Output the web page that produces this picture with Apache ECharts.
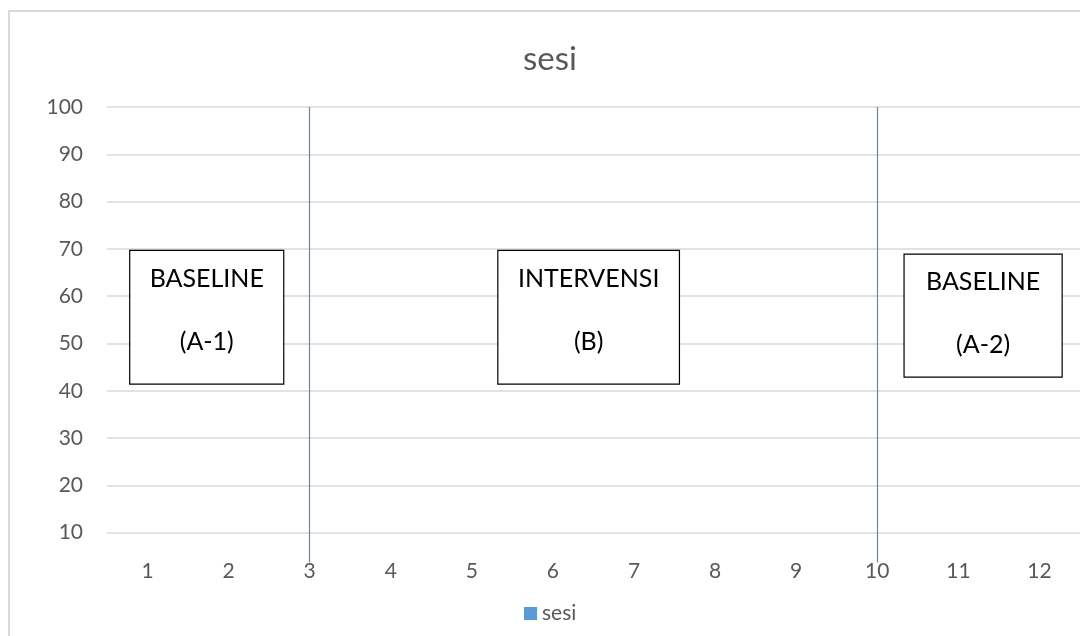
<!DOCTYPE html>
<html>
<head>
<meta charset="utf-8">
<script src="https://cdn.jsdelivr.net/npm/echarts@6/dist/echarts.min.js"></script>
<style>
  html, body { margin: 0; padding: 0; background: #ffffff; }
  #chart { width: 1080px; height: 636px; }
</style>
</head>
<body>
<div id="chart"></div>
<script>
// Session numbers along the horizontal axis
const categories = ['1', '2', '3', '4', '5', '6', '7', '8', '9', '10', '11', '12'];
// The "sesi" series carries no plotted values yet
const sesiValues = [null, null, null, null, null, null, null, null, null, null, null, null];

// Phase change lines (category where each new phase begins)
const phaseBoundaries = ['3', '10'];
const phaseLineTop = 100;
const phaseLineBottom = 3.7;

// Phase captions and their box extents in data units
const phaseNames = ['BASELINE', 'INTERVENSI', 'BASELINE'];
const phaseCodes = ['(A-1)', '(B)', '(A-2)'];
const phaseBoxX = [[0.78, 2.68], [5.32, 7.56], [10.33, 12.28]];
const phaseBoxY = [[41.4, 69.7], [41.4, 69.7], [42.9, 68.9]];

const FONT = 'Lato, "Open Sans", sans-serif';
const GREY = '#595959';
const BLUE = '#5b9bd5';
const LINE_BLUE = '#4a8ed0';

const chart = echarts.init(document.getElementById('chart'), null, { renderer: 'canvas' });

const phaseAreas = phaseNames.map((name, i) => [
  {
    coord: [phaseBoxX[i][0], phaseBoxY[i][1]],
    label: { formatter: name + '\n\n' + phaseCodes[i] }
  },
  { coord: [phaseBoxX[i][1], phaseBoxY[i][0]] }
]);

const phaseLines = phaseBoundaries.map(c => [
  { coord: [c, phaseLineTop], lineStyle: { color: LINE_BLUE, width: 1.2, type: 'solid', opacity: 1 } },
  { coord: [c, phaseLineBottom] }
]);

chart.setOption({
  animation: false,
  backgroundColor: '#ffffff',
  graphic: [{
    type: 'rect',
    silent: true,
    z: -10,
    shape: { x: 9, y: 11, width: 1200, height: 800 },
    style: { fill: 'none', stroke: '#d9d9d9', lineWidth: 2 }
  }],
  title: {
    text: 'sesi',
    left: 545,
    top: 38,
    textAlign: 'center',
    textStyle: { fontFamily: FONT, fontSize: 33, fontWeight: 'normal', color: GREY }
  },
  legend: {
    data: ['sesi'],
    left: 519,
    top: 598,
    itemWidth: 13,
    itemHeight: 13,
    itemGap: 10,
    icon: 'rect',
    textStyle: { fontFamily: FONT, fontSize: 21, color: GREY, padding: [0, 0, 0, 0] }
  },
  grid: { left: 107, top: 107, right: -2, bottom: 56, containLabel: false },
  xAxis: [
    {
      type: 'category',
      data: categories,
      boundaryGap: true,
      axisLine: { show: false },
      axisTick: { show: false },
      splitLine: { show: false },
      axisLabel: { margin: -19, fontFamily: FONT, fontSize: 21, color: GREY }
    },
    {
      type: 'value',
      min: 0.5,
      max: 12.5,
      show: false
    }
  ],
  yAxis: {
    type: 'value',
    min: 0,
    max: 100,
    interval: 10,
    axisLine: { show: false },
    axisTick: { show: false },
    axisLabel: {
      margin: 24,
      fontFamily: FONT,
      fontSize: 21,
      color: GREY,
      showMinLabel: false
    },
    splitLine: { show: true, showMinLine: false, lineStyle: { color: '#d9d9d9', width: 1.5 } }
  },
  series: [
    {
      name: 'sesi',
      type: 'bar',
      xAxisIndex: 0,
      data: sesiValues,
      itemStyle: { color: BLUE },
      markLine: {
        silent: true,
        symbol: 'none',
        label: { show: false },
        itemStyle: { color: LINE_BLUE },
        lineStyle: { color: LINE_BLUE, width: 1.2, type: 'solid', opacity: 1 },
        data: phaseLines
      }
    },
    {
      name: 'phases',
      type: 'line',
      xAxisIndex: 1,
      data: [],
      markArea: {
        silent: true,
        itemStyle: { color: '#ffffff', borderColor: '#000000', borderWidth: 1.2 },
        label: {
          show: true,
          position: 'insideTop',
          distance: 13,
          align: 'center',
          fontFamily: FONT,
          fontSize: 25,
          lineHeight: 31.5,
          color: '#000000'
        },
        data: phaseAreas
      }
    }
  ]
});
</script>
</body>
</html>
